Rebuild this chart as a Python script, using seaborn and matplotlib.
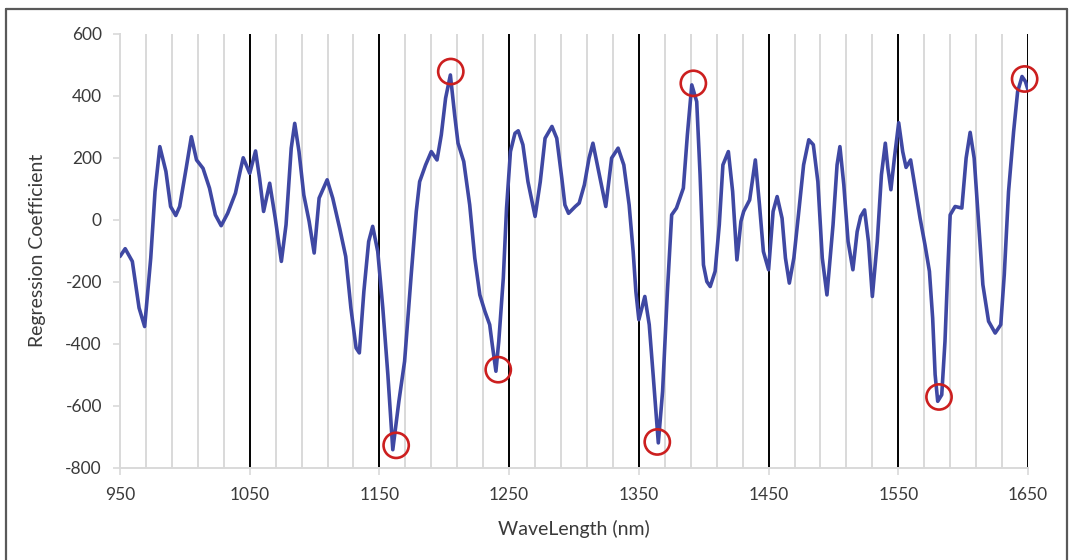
import numpy as np
import pandas as pd
import matplotlib
matplotlib.use("Agg")
import matplotlib.pyplot as plt
from matplotlib.lines import Line2D
import seaborn as sns

# Regression coefficient spectrum
wavelength = [
    950, 954, 959.5, 964.7, 969, 973.7, 977, 980.7, 985.4, 989, 993, 996,
    1001, 1005, 1009, 1014, 1019, 1023.5, 1028, 1033, 1039, 1042.6, 1045,
    1047.8, 1050, 1054.5, 1057.6, 1060.7, 1065.4, 1069.7, 1074.4, 1078,
    1082, 1084.7, 1088, 1091.7, 1095.8, 1099.7, 1103.5, 1109.7, 1114,
    1119.5, 1124, 1128, 1132, 1134.5, 1138, 1141.7, 1144.8, 1148.7,
    1152.6, 1156.5, 1160.3, 1165, 1169.4, 1174.5, 1178.4, 1181, 1185.6,
    1190, 1194.4, 1197.7, 1201, 1204.7, 1208, 1210.6, 1215, 1219.6,
    1223.5, 1227.4, 1231.3, 1235, 1237, 1239.8, 1242, 1245.5, 1248, 1251,
    1254.5, 1257, 1260.6, 1264.5, 1270, 1274, 1277.7, 1283, 1286.7,
    1290.6, 1293, 1295.8, 1301, 1304, 1308, 1311.6, 1314.6, 1318.5,
    1324.5, 1329, 1334, 1338.4, 1342.5, 1345.6, 1347.7, 1350, 1354.6,
    1358, 1361, 1365, 1368.3, 1372, 1375.3, 1379, 1384.3, 1387.4, 1390.8,
    1394.6, 1397.2, 1399.8, 1402.4, 1405, 1408.8, 1412, 1414.8, 1419,
    1422.3, 1425.6, 1428.7, 1430.8, 1435.4, 1439.8, 1443, 1446, 1450,
    1453.5, 1456.6, 1460.4, 1463, 1466, 1469.5, 1473, 1477, 1481, 1484.5,
    1488, 1491.4, 1495, 1499.7, 1502.8, 1505, 1508, 1511.3, 1515, 1518.3,
    1521, 1524, 1527, 1530, 1533.8, 1537, 1540, 1542, 1544.3, 1547,
    1550.3, 1553.4, 1556, 1559.5, 1563, 1566.8, 1570.6, 1574, 1576.5,
    1578.4, 1580.4, 1583.5, 1586, 1588, 1590, 1593.8, 1599, 1602.3,
    1605.4, 1608.5, 1612, 1615.2, 1619.6, 1624.7, 1629, 1631.7, 1635,
    1638.9, 1642, 1645.4, 1648, 1650,
]
coefficient = [
    -118, -93, -134, -284, -344, -123, 91, 236, 156, 43, 14, 43,
    166, 268, 193, 166, 102, 16, -19, 21, 86, 156, 200,
    172, 150, 222, 134, 27, 118, 5, -134, -16,
    231, 311, 220, 80, -5, -107, 70, 129, 70,
    -30, -118, -284, -413, -429, -231, -70, -21, -102,
    -284, -499, -741, -585, -456, -177, 27, 123, 177,
    220, 193, 274, 392, 467, 338, 247, 188, 48,
    -123, -242, -295, -338, -403, -488, -392, -188, 38, 220,
    279, 287, 242, 123, 11, 123, 263, 301, 263,
    134, 48, 21, 43, 54, 113, 199, 247, 166,
    43, 199, 231, 177, 48, -102, -231, -322, -247,
    -338, -499, -719, -553, -231, 16, 38, 102, 274, 435,
    381, 145, -145, -199, -215, -166, -16, 177, 220,
    91, -129, -5, 27, 64, 193, 48, -102, -161,
    27, 75, 5, -123, -204, -123, 15, 177, 258, 242,
    123, -123, -242, -16, 177, 236, 113, -70, -161, -38,
    11, 32, -70, -247, -70, 145, 247, 166, 97, 199,
    313, 220, 169, 193, 102, 5, -81, -166, -317,
    -499, -585, -564, -392, -177, 16, 43, 38, 199,
    282, 199, -16, -209, -327, -365, -338, -177, 91,
    284, 413, 462, 446, 419,
]

# Highlighted extrema
marked_wavelength = [1162.9, 1205, 1241.6, 1364.2, 1392, 1581.4, 1647.4]
marked_coefficient = [-727, 478, -483, -716, 440, -571, 454]

x_ticks = [950, 1050, 1150, 1250, 1350, 1450, 1550, 1650]
y_ticks = [-800, -600, -400, -200, 0, 200, 400, 600]

sns.set_style("white")
plt.rcParams["font.family"] = ["Lato", "DejaVu Sans"]
plt.rcParams["axes.unicode_minus"] = False

TEXT = "#3a3a3a"
GRID_LIGHT = "#d9d9d9"
LINE_BLUE = "#3f48a3"
RING_RED = "#cc1f1f"

fig = plt.figure(figsize=(10.71, 5.60), dpi=100)
ax = fig.add_axes([120 / 1071, 1 - 468 / 560, 908 / 1071, (468 - 33.7) / 560])

# minor (20 nm) and major (100 nm) vertical gridlines
minor_x = np.arange(970, 1650, 20)
for xv in minor_x:
    if (xv - 950) % 100 != 0:
        ax.axvline(xv, color=GRID_LIGHT, lw=1.4, zorder=0.5)
for xv in x_ticks[1:]:
    ax.axvline(xv, color="black", lw=1.4, zorder=0.6)

df = pd.DataFrame({"WaveLength (nm)": wavelength,
                   "Regression Coefficient": coefficient})
sns.lineplot(data=df, x="WaveLength (nm)", y="Regression Coefficient",
             ax=ax, color=LINE_BLUE, lw=2.6, estimator=None, sort=False,
             zorder=3, solid_joinstyle="round", solid_capstyle="round")

marks = pd.DataFrame({"x": marked_wavelength, "y": marked_coefficient})
sns.scatterplot(data=marks, x="x", y="y", ax=ax, marker="o", s=330,
                facecolor="none", edgecolor=RING_RED, linewidth=1.9,
                zorder=4, legend=False, clip_on=False)

ax.set_xlim(950, 1650)
ax.set_ylim(-800, 600)
ax.set_xticks(x_ticks)
ax.set_yticks(y_ticks)
ax.tick_params(axis="both", which="both", direction="out", length=5,
               width=1.2, color=GRID_LIGHT, labelcolor=TEXT, labelsize=12.5,
               bottom=True, left=True)
ax.tick_params(axis="x", pad=9)
ax.tick_params(axis="y", pad=8)

for side in ("top", "right"):
    ax.spines[side].set_visible(False)
for side in ("left", "bottom"):
    ax.spines[side].set_color(GRID_LIGHT)
    ax.spines[side].set_linewidth(1.4)

ax.set_xlabel("WaveLength (nm)", fontsize=14, color=TEXT, labelpad=12)
ax.set_ylabel("Regression Coefficient", fontsize=14, color=TEXT, labelpad=14)

# outer frame around the figure
frame_kw = dict(color="#595959", lw=1.6, transform=fig.transFigure)
x0, x1 = 6 / 1071, 1067 / 1071
y0, y1 = 0.5 / 560, 1 - 9 / 560
fig.lines.extend([
    Line2D([x0, x1], [y1, y1], **frame_kw),
    Line2D([x0, x0], [y0, y1], **frame_kw),
    Line2D([x1, x1], [y0, y1], **frame_kw),
])

fig.savefig("out.png", dpi=100, facecolor="white")
